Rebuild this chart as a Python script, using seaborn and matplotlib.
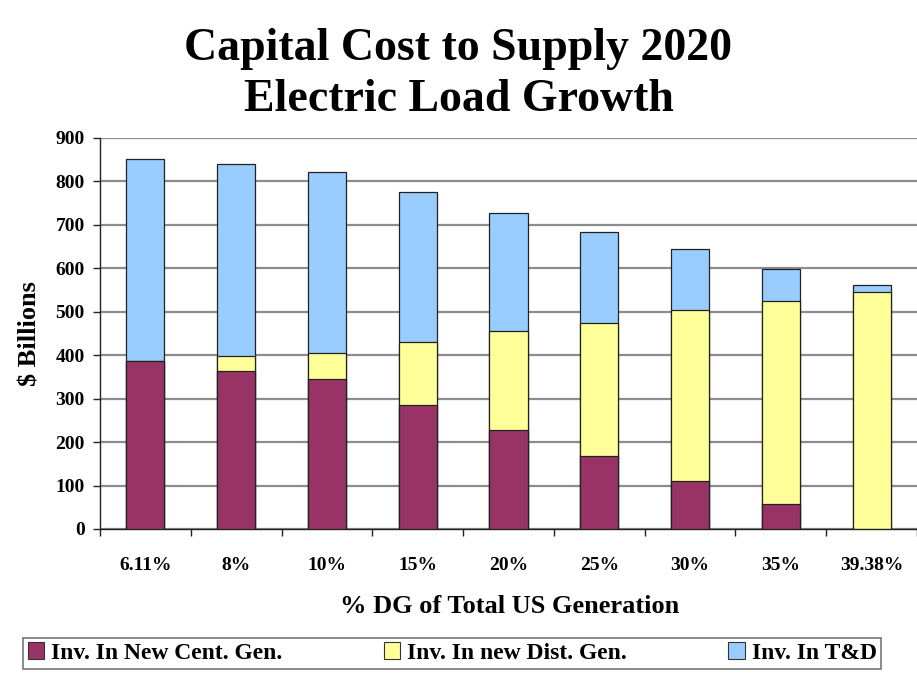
import matplotlib
matplotlib.use("Agg")
import matplotlib.pyplot as plt
from matplotlib.patches import Patch
from matplotlib.ticker import FixedLocator
import numpy as np
import pandas as pd
import seaborn as sns

# DG share of total US generation (categories)
categories = ["6.11%", "8%", "10%", "15%", "20%", "25%", "30%", "35%", "39.38%"]
# Investment components, $ billions
central_gen = [386, 364, 345, 285, 228, 168, 111, 57, 0]
dist_gen = [0, 34, 60, 144, 228, 306, 392, 468, 546]
t_and_d = [464, 441, 415, 346, 271, 209, 141, 72, 15]

series_names = ["Inv. In New Cent. Gen.", "Inv. In new Dist. Gen.", "Inv. In T&D"]
colors = ["#993366", "#FFFF99", "#99CCFF"]
y_ticks = [0, 100, 200, 300, 400, 500, 600, 700, 800, 900]

df = pd.DataFrame({"dg": categories, "cent": central_gen, "dist": dist_gen, "td": t_and_d})
df["lvl1"] = df["cent"]
df["lvl2"] = df["cent"] + df["dist"]
df["lvl3"] = df["lvl2"] + df["td"]

sns.set_theme(style="white")
plt.rcParams["font.family"] = ["Liberation Serif", "DejaVu Serif"]
plt.rcParams["font.weight"] = "bold"
plt.rcParams["text.color"] = "black"
plt.rcParams["axes.labelcolor"] = "black"
plt.rcParams["xtick.color"] = "black"
plt.rcParams["ytick.color"] = "black"

fig = plt.figure(figsize=(9.17, 6.75), dpi=100)
ax = fig.add_axes([0.109, 0.2163, 0.893, 0.5797])

# stacked bars drawn as layered cumulative totals
for col, c in zip(["lvl3", "lvl2", "lvl1"], [colors[2], colors[1], colors[0]]):
    sns.barplot(data=df, x="dg", y=col, color=c, width=0.42, saturation=1,
                edgecolor="#222222", linewidth=0.9, ax=ax, zorder=3)

ax.set_ylim(0, 900)
ax.set_xlim(-0.5, 8.52)
ax.set_yticks(y_ticks)
ax.yaxis.grid(True, color="#8c8c8c", linewidth=1.6, zorder=0)
ax.set_axisbelow(True)

for side in ["top", "right"]:
    ax.spines[side].set_visible(False)
for side in ["left", "bottom"]:
    ax.spines[side].set_color("#222222")
    ax.spines[side].set_linewidth(1.0)

ax.tick_params(axis="y", which="major", direction="out", length=5, width=1,
               color="#222222", labelsize=14, pad=6, left=True)
ax.tick_params(axis="x", which="major", length=0, labelsize=14, pad=20)
ax.xaxis.set_minor_locator(FixedLocator(np.arange(-0.5, 9.0, 1.0)))
ax.tick_params(axis="x", which="minor", direction="out", length=5, width=1,
               color="#222222", bottom=True)
for lab in ax.get_xticklabels() + ax.get_yticklabels():
    lab.set_fontweight("bold")

ax.set_xlabel("% DG of Total US Generation", fontsize=19, fontweight="bold", labelpad=15)
ax.set_ylabel("$ Billions", fontsize=19, fontweight="bold", labelpad=10)

fig.text(0.50, 0.928, "Capital Cost to Supply 2020", ha="center", va="center",
         fontsize=33, fontweight="bold")
fig.text(0.50, 0.852, "Electric Load Growth", ha="center", va="center",
         fontsize=33, fontweight="bold")

handles = [Patch(facecolor=c, edgecolor="#333333", linewidth=0.8, label=n)
           for c, n in zip(colors, series_names)]
leg = fig.legend(handles=handles, loc="lower left", ncol=3, mode="expand",
                 bbox_to_anchor=(0.012, -0.008, 0.962, 0.052), frameon=True,
                 fancybox=False, edgecolor="#555555", fontsize=17,
                 handlelength=0.7, handleheight=0.7, handletextpad=0.3,
                 borderpad=0.2, columnspacing=1.0)
leg.get_frame().set_linewidth(1.2)
for t in leg.get_texts():
    t.set_fontweight("bold")

fig.savefig("out.png", dpi=100, facecolor="white")
